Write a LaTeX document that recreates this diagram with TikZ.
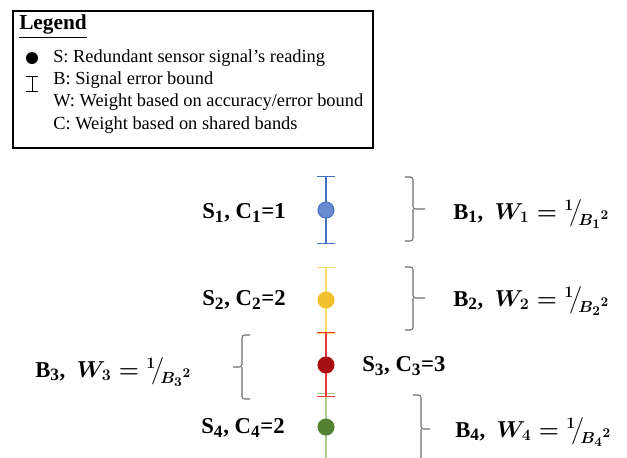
\documentclass[tikz,border=0pt]{standalone}
\usepackage{amsmath,amssymb,bm}
\usepackage{fontspec}
\setmainfont{Liberation Serif}
\usetikzlibrary{arrows.meta,positioning,calc}
\DeclareMathSizes{17}{17}{13}{10}
\definecolor{barblue}{HTML}{4472C4}
\definecolor{dotblue}{HTML}{6A8AD0}
\definecolor{baryellow}{HTML}{FFD966}
\definecolor{dotyellow}{HTML}{F2BF2E}
\definecolor{barred}{HTML}{E83A3A}
\definecolor{dotred}{HTML}{A50F0F}
\definecolor{bargreen}{HTML}{A9D18E}
\definecolor{dotgreen}{HTML}{548235}
\definecolor{bracegray}{HTML}{6E6E6E}
\newcommand{\bwlabel}[1]{B\textsubscript{#1},\ \ $\bm{W_{#1}} = {}^{1}\!\big/\!{}_{{\bm{B}_{#1}}^{2}}$}

\begin{document}
\begin{tikzpicture}[x=0.75pt, y=-0.75pt,
  legtxt/.style={anchor=west, inner sep=0pt, font=\fontsize{13.8}{16}\selectfont},
  lbl/.style={inner sep=0pt, font=\fontsize{17}{20}\selectfont\bfseries\boldmath},
  dot/.style={circle, inner sep=0pt, minimum size=12pt, line width=0.8pt},
  ebar/.style={line width=1.1pt, {Bar[width=13.5pt,line width=1.1pt]}-{Bar[width=13.5pt,line width=1.1pt]}},
  brc/.style={draw=bracegray, line width=0.8pt, rounded corners=2pt}]
\useasboundingbox (0,0) rectangle (627,457);
\clip (0,0) rectangle (627,457);
% legend
\draw[line width=0.8pt] (13,11) rectangle (373,148);
\node[anchor=west, inner sep=0pt, font=\fontsize{16}{19}\selectfont\bfseries] (leg) at (19,27) {\underline{Legend}};
\node[circle, fill=black, inner sep=0pt, minimum size=9pt] (legdot) at (32,58) {};
\coordinate (legbt) at (32,76);
\coordinate (legbb) at (32,92);
\draw[line width=0.7pt, {Bar[width=9.5pt,line width=0.7pt]}-{Bar[width=9.5pt,line width=0.7pt]}] (legbt) -- (legbb);
\node[legtxt] (ls) at (53,58) {S: Redundant sensor signal’s reading};
\node[legtxt] (lb) at (53,80) {B: Signal error bound};
\node[legtxt] (lw) at (53,102) {W: Weight based on accuracy/error bound};
\node[legtxt] (lc) at (53,125) {C: Weight based on shared bands};
% error bars
\coordinate (t1) at (326,176); \coordinate (b1) at (326,244);
\coordinate (t2) at (326,267); \coordinate (b2) at (326,334);
\coordinate (t3) at (326,332); \coordinate (b3) at (326,397);
\coordinate (t4) at (326,393); \coordinate (b4) at (326,461);
\draw[ebar, barblue] (t1) -- (b1);
\draw[ebar, baryellow] (t2) -- (b2);
\draw[ebar, bargreen] (t4) -- (b4);
\draw[ebar, barred] (t3) -- (b3);
% sensor readings
\node[dot, fill=dotblue, draw=barblue] (s1) at (326,210) {};
\node[dot, fill=dotyellow, draw=dotyellow] (s2) at (326,300) {};
\node[dot, fill=dotred, draw=dotred!85!red] (s3) at (326,365) {};
\node[dot, fill=dotgreen, draw=dotgreen] (s4) at (326,427) {};
\node[lbl] (ls1) at (244,213) {S\textsubscript{1}, C\textsubscript{1}=1};
\node[lbl] (ls2) at (244,300) {S\textsubscript{2}, C\textsubscript{2}=2};
\node[lbl, anchor=west] (ls3) at (362,366) {S\textsubscript{3}, C\textsubscript{3}=3};
\node[lbl] (ls4) at (243,428) {S\textsubscript{4}, C\textsubscript{4}=2};
% bounds
\draw[brc] (405,177) -| (413,209) -- (425,209) (413,209) |- (405,241);
\draw[brc] (405,267) -| (413,298) -- (425,298) (413,298) |- (405,330);
\draw[brc] (250,335) -| (242,367) -- (233,367) (242,367) |- (250,399);
\draw[brc] (413,395) -| (421,429) -- (430,429) (421,429) |- (413,463);
\node[lbl, anchor=west] (w1) at (453,214) {\bwlabel{1}};
\node[lbl, anchor=west] (w2) at (453,301) {\bwlabel{2}};
\node[lbl, anchor=west] (w3) at (35,372) {\bwlabel{3}};
\node[lbl, anchor=west] (w4) at (455,432) {\bwlabel{4}};
\end{tikzpicture}
\end{document}
